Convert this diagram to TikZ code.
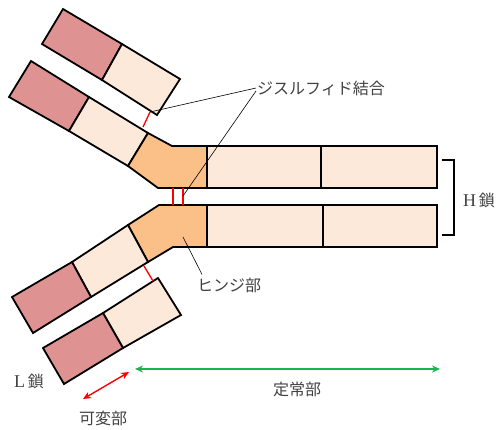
\documentclass[tikz,border=0pt]{standalone}
\usepackage{fontspec}
\setmainfont{Liberation Serif}
\newfontfamily\jp{Noto Sans CJK JP}
\newcommand\latinsize{\fontsize{18}{20}\selectfont}
\usetikzlibrary{arrows.meta}
\definecolor{varcol}{HTML}{DF9292}
\definecolor{constcol}{HTML}{FDE9D9}
\definecolor{hingecol}{HTML}{FBBF88}
\definecolor{txtcol}{HTML}{404040}
\definecolor{arrgreen}{HTML}{1DB34F}
\tikzset{
  dom/.style={draw=black, line width=1.8pt, line join=miter},
  vdom/.style={dom, fill=varcol},
  cdom/.style={dom, fill=constcol},
  hdom/.style={dom, fill=hingecol},
  ssbond/.style={draw=red, line width=1.3pt},
  leader/.style={draw=black, line width=0.6pt},
  lbl/.style={text=txtcol, font=\fontsize{16}{18}\selectfont, inner sep=1pt},
  span/.style={line width=1.4pt, {Stealth[length=8pt,width=7pt,open]}-{Stealth[length=8pt,width=7pt,open]}}
}
\begin{document}
\begin{tikzpicture}[x=1pt,y=-1pt]
\useasboundingbox (0,0) rectangle (500,429);

% upper light chain
\path[vdom] (63,9) -- (122,44) -- (102,80) -- (42,44) -- cycle;
\path[cdom] (122,44) -- (180,79) -- (157,115) -- (102,80) -- cycle;

% upper heavy chain: arm and hinge
\path[vdom] (31,61) -- (89,97) -- (69,131) -- (9,97) -- cycle;
\path[cdom] (89,97) -- (148,133) -- (128,166) -- (69,131) -- cycle;
\path[hdom] (148,133) -- (172,146) -- (207,146) -- (207,188) -- (158,188) -- (128,166) -- cycle;
% upper heavy chain: constant domains
\path[cdom] (207,146) rectangle (321,188);
\path[cdom] (321,146) rectangle (437,188);

% lower heavy chain: hinge and arm
\path[hdom] (128,225) -- (159,205) -- (207,205) -- (207,247) -- (173,247) -- (148,262) -- cycle;
\path[cdom] (72,262) -- (128,225) -- (148,262) -- (91,297) -- cycle;
\path[vdom] (12,297) -- (72,262) -- (91,297) -- (33,333) -- cycle;
% lower heavy chain: constant domains
\path[cdom] (207,205) rectangle (323,247);
\path[cdom] (323,205) rectangle (437,247);

% lower light chain
\path[cdom] (103,313) -- (158,278) -- (181,315) -- (123,348) -- cycle;
\path[vdom] (43,348) -- (103,313) -- (123,348) -- (64,384) -- cycle;

% disulfide bonds
\coordinate (ssL) at (150,112);
\coordinate (ssH) at (183,196);
\draw[ssbond] (ssL) -- (143,127);
\draw[ssbond] (173,188) -- (173,205);
\draw[ssbond] (183,188) -- (ssH);
\draw[ssbond] (ssH) -- (183,205);
\draw[ssbond] (144,266) -- (153,281);

% heavy chain bracket
\draw[line width=1.2pt] (442,160) -- (454,160) -- (454,235) -- (442,235);

% labels
\node[lbl, anchor=west] (ss) at (256,88) {\jp ジスルフィド結合};
\node[lbl, anchor=west] (hinge) at (196,285) {\jp ヒンジ部};
\node[lbl, anchor=west] (hc) at (462,200) {{\latinsize H}\,{\jp 鎖}};
\node[lbl, anchor=west] (lc) at (13,381) {{\latinsize L}\,{\jp 鎖}};
\node[lbl] (var) at (103,418) {\jp 可変部};
\node[lbl] (const) at (297,389) {\jp 定常部};

% leader lines
\coordinate (hingept) at (183,237);
\draw[leader] (ss.west) -- (ssL);
\draw[leader] ([yshift=-3pt]ss.west) -- (ssH);
\draw[leader] (hinge.north west) ++(6,-2) coordinate (hingetip) (hingetip) -- (hingept);

% region arrows
\coordinate (v1) at (83,399);
\coordinate (v2) at (129,372);
\coordinate (c1) at (135,369);
\coordinate (c2) at (440,369);
\draw[span, red] (v1) -- (v2);
\draw[span, arrgreen] (c1) -- (c2);
\end{tikzpicture}
\end{document}
